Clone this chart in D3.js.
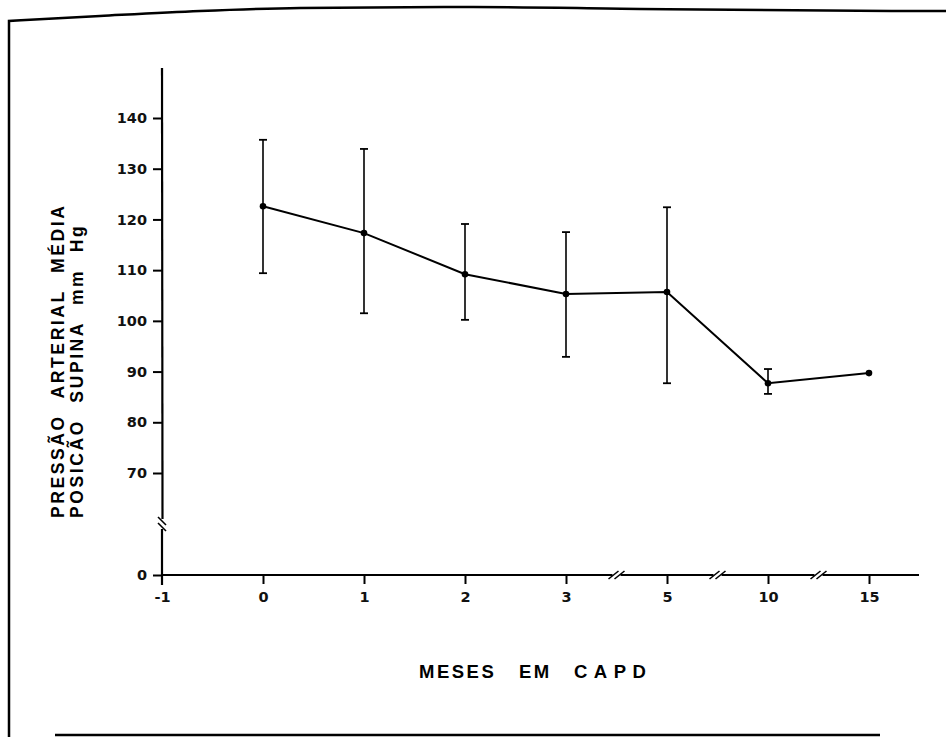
<!DOCTYPE html>
<html>
<head>
<meta charset="utf-8">
<script src="https://cdn.jsdelivr.net/npm/d3@7"></script>
<style>
  html, body { margin: 0; padding: 0; background: #fff; }
  svg { display: block; }
  .tick text { font-family: "DejaVu Sans", sans-serif; font-size: 14.5px; font-weight: bold; fill: #111; }
</style>
</head>
<body>
<svg id="chart"></svg>
<script>
// months on CAPD (categorical, the axis is broken between 3-5, 5-10, 10-15)
const months = ["-1", "0", "1", "2", "3", "5", "10", "15"];
// mean supine arterial pressure, mm Hg
const meanPressure = [null, 122.6, 117.3, 109.2, 105.3, 105.7, 87.7, 89.7];
const upperBar = [null, 135.7, 133.9, 119.1, 117.5, 122.4, 90.5, null];
const lowerBar = [null, 109.4, 101.5, 100.2, 92.9, 87.7, 85.6, null];
const yTickValues = [0, 70, 80, 90, 100, 110, 120, 130, 140];

const width = 946, height = 737;

const svg = d3.select("#chart")
    .attr("width", width)
    .attr("height", height)
    .attr("viewBox", [0, 0, width, height]);

// hand-drawn frame of the original figure
svg.append("path")
    .attr("d", "M9,737 L9,21 " + d3.line().curve(d3.curveMonotoneX)([
        [9, 21], [100, 16], [200, 11], [300, 8], [473, 7], [640, 9], [900, 11], [946, 11]
    ]).slice(1).replace(/^/, "L"))
    .attr("fill", "none")
    .attr("stroke", "#000")
    .attr("stroke-width", 2.5);
svg.append("line")
    .attr("x1", 55).attr("x2", 880)
    .attr("y1", 735).attr("y2", 735)
    .attr("stroke", "#000")
    .attr("stroke-width", 2.5);

const x = d3.scalePoint(months, [162, 869]);
// 0..60 is compressed into the broken part of the axis
const y = d3.scaleLinear()
    .domain([0, 60, 70, 140])
    .range([575, 524, 473, 118]);

const data = months.map((m, i) => ({
    month: m,
    value: meanPressure[i],
    hi: upperBar[i],
    lo: lowerBar[i]
})).filter(d => d.value != null);

// ---- axes
const xAxis = svg.append("g")
    .attr("transform", `translate(0, ${y(0)})`)
    .call(d3.axisBottom(x).tickSize(9).tickPadding(8));
xAxis.select(".domain").remove();
xAxis.selectAll(".tick line").attr("stroke", "#000").attr("stroke-width", 2);
xAxis.selectAll(".tick").filter(d => d === "-1").select("line").remove();

const yAxis = svg.append("g")
    .attr("transform", `translate(${x("-1")}, 0)`)
    .call(d3.axisLeft(y).tickValues(yTickValues).tickSize(9).tickPadding(6));
yAxis.select(".domain").remove();
yAxis.selectAll(".tick line").attr("stroke", "#000").attr("stroke-width", 2);

const axisStroke = g => g.attr("stroke", "#000").attr("stroke-width", 2.2).attr("fill", "none");

// y axis line, with a break between 0 and 70
const x0 = x("-1");
const yBreak = y(60);
svg.append("line").call(axisStroke)
    .attr("x1", x0).attr("x2", x0 + 0.5)
    .attr("y1", 68).attr("y2", yBreak - 5);
svg.append("line").call(axisStroke)
    .attr("x1", x0).attr("x2", x0)
    .attr("y1", yBreak + 5).attr("y2", y(0) + 10);
[-3, 3].forEach(o => {
    svg.append("line").call(axisStroke)
        .attr("stroke-width", 1.6)
        .attr("x1", x0 - 4).attr("x2", x0 + 4)
        .attr("y1", yBreak + o - 4).attr("y2", yBreak + o + 4);
});

// x axis line, broken between the non-consecutive months
const breaks = [["3", "5"], ["5", "10"], ["10", "15"]].map(([a, b]) => (x(a) + x(b)) / 2);
const segs = [x0].concat(breaks.flatMap(b => [b - 4, b + 4])).concat([919]);
for (let i = 0; i < segs.length; i += 2) {
    svg.append("line").call(axisStroke)
        .attr("x1", segs[i]).attr("x2", segs[i + 1])
        .attr("y1", y(0)).attr("y2", y(0));
}
breaks.forEach(b => {
    [-3, 3].forEach(o => {
        svg.append("line").call(axisStroke)
            .attr("stroke-width", 1.6)
            .attr("x1", b + o - 5).attr("x2", b + o + 5)
            .attr("y1", y(0) + 4).attr("y2", y(0) - 4);
    });
});

// ---- error bars
const bars = svg.append("g")
    .selectAll("g.bar")
    .data(data.filter(d => d.hi != null))
    .join("g")
    .classed("bar", true)
    .attr("stroke", "#000");
bars.append("line")
    .attr("x1", d => x(d.month)).attr("x2", d => x(d.month))
    .attr("y1", d => y(d.hi)).attr("y2", d => y(d.lo))
    .attr("stroke-width", 1.6);
bars.selectAll("line.cap")
    .data(d => [{ m: d.month, v: d.hi }, { m: d.month, v: d.lo }])
    .join("line")
    .classed("cap", true)
    .attr("x1", d => x(d.m) - 4).attr("x2", d => x(d.m) + 4)
    .attr("y1", d => y(d.v)).attr("y2", d => y(d.v))
    .attr("stroke-width", 1.8);

// ---- mean line and points
svg.append("path")
    .datum(data)
    .attr("fill", "none")
    .attr("stroke", "#000")
    .attr("stroke-width", 2)
    .attr("d", d3.line().x(d => x(d.month)).y(d => y(d.value)));

svg.append("g")
    .selectAll("circle")
    .data(data)
    .join("circle")
    .attr("cx", d => x(d.month))
    .attr("cy", d => y(d.value))
    .attr("r", 3.3)
    .attr("fill", "#000");

// ---- titles
const title = svg.append("g")
    .attr("font-family", "'Liberation Sans', Arial, sans-serif")
    .attr("font-weight", "bold")
    .attr("fill", "#000");

title.append("text")
    .attr("transform", "translate(64, 518) rotate(-90)")
    .attr("font-size", 17.5)
    .attr("letter-spacing", 2.6)
    .attr("word-spacing", 9)
    .text("PRESSÃO ARTERIAL MÉDIA");
title.append("text")
    .attr("transform", "translate(83, 518) rotate(-90)")
    .attr("font-size", 17.5)
    .attr("letter-spacing", 2.6)
    .attr("word-spacing", 9)
    .text("POSICÃO SUPINA mm Hg");

const xTitle = title.append("text")
    .attr("y", 678)
    .attr("font-size", 18.5);
xTitle.append("tspan").attr("x", 419).attr("letter-spacing", 2.5).text("MESES");
xTitle.append("tspan").attr("x", 519).attr("letter-spacing", 2.5).text("EM");
xTitle.append("tspan").attr("x", 574).attr("letter-spacing", 6.5).text("CAPD");
</script>
</body>
</html>
